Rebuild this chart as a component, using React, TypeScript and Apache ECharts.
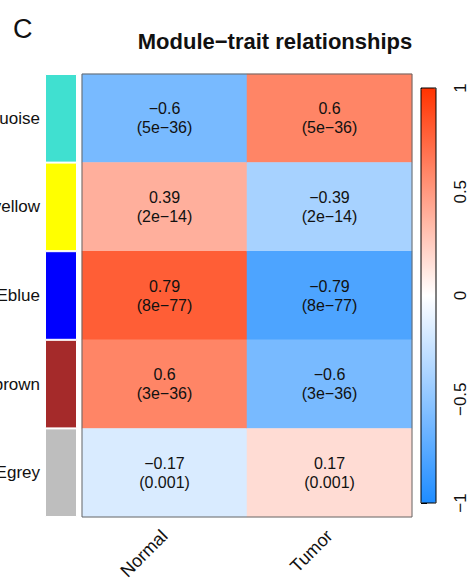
import React, { useEffect, useRef } from "react";
import * as echarts from "echarts";

const traits = ["Normal", "Tumor"];
const modules = ["MEturquoise", "MEyellow", "MEblue", "MEbrown", "MEgrey"];
const moduleColors = ["#40E0D0", "#FFFF00", "#0000FF", "#A52A2A", "#BEBEBE"];
const corNormal = [-0.6, 0.39, 0.79, 0.6, -0.17];
const corTumor = [0.6, -0.39, -0.79, -0.6, 0.17];
const pNormal = ["5e-36", "2e-14", "8e-77", "3e-36", "0.001"];
const pTumor = ["5e-36", "2e-14", "8e-77", "3e-36", "0.001"];

const FONT = "'Liberation Sans', Arial, Helvetica, sans-serif";
const minus = (s: string) => s.replace(/-/g, "\u2212");

export default function App() {
  const ref = useRef<HTMLDivElement>(null);
  useEffect(() => {
    if (!ref.current) return;
    const chart = echarts.init(ref.current, undefined, { renderer: "svg" });
    const cor = [corNormal, corTumor];
    const pv = [pNormal, pTumor];
    const heatData: any[] = [];
    for (let x = 0; x < traits.length; x++) {
      for (let y = 0; y < modules.length; y++) {
        heatData.push([x, y, cor[x][y]]);
      }
    }
    const stripData = modules.map((m, i) => ({
      value: 1,
      itemStyle: { color: moduleColors[i] },
    }));
    chart.setOption({
      animation: false,
      textStyle: { fontFamily: FONT },
      grid: [
        { left: 82, top: 74, width: 330, height: 443, show: true, borderColor: "#666", borderWidth: 1, backgroundColor: "transparent", z: 5, outerBoundsMode: "none", containLabel: false },
        { left: 45, top: 74, width: 32, height: 443, outerBoundsMode: "none", containLabel: false },
        { left: 421, top: 88, width: 15, height: 415, outerBoundsMode: "none", containLabel: false },
      ],
      xAxis: [
        {
          type: "category",
          gridIndex: 0,
          data: traits,
          axisLine: { show: false },
          axisTick: { show: false },
          splitLine: { show: false },
          axisLabel: { rotate: 45, fontSize: 18, margin: 16, color: "#111", fontFamily: FONT },
        },
        { type: "value", gridIndex: 1, min: 0, max: 1, show: false },
        { type: "value", gridIndex: 2, min: 0, max: 1, show: false },
      ],
      yAxis: [
        { type: "category", gridIndex: 0, data: modules, inverse: true, show: false },
        {
          type: "category",
          gridIndex: 1,
          data: modules,
          inverse: true,
          position: "left",
          axisLine: { show: false },
          axisTick: { show: false },
          splitLine: { show: false },
          axisLabel: { fontSize: 17, margin: 5, color: "#111", fontFamily: FONT },
        },
        {
          type: "value",
          gridIndex: 2,
          min: -1,
          max: 1,
          interval: 0.5,
          position: "right",
          axisLine: { show: false },
          splitLine: { show: false },
          axisTick: { show: true, length: 6, lineStyle: { color: "#000", width: 1 } },
          axisLabel: {
            rotate: 90,
            fontSize: 17,
            margin: 16,
            color: "#111",
            fontFamily: FONT,
            formatter: (v: number) => minus(String(v)),
          },
        },
      ],
      visualMap: {
        type: "continuous",
        min: -1,
        max: 1,
        seriesIndex: 0,
        calculable: false,
        hoverLink: false,
        left: 421,
        top: 88,
        itemWidth: 15,
        itemHeight: 415,
        padding: 0,
        orient: "vertical",
        inRange: { color: ["#1E8CFF", "#FFFFFF", "#FF3300"] },
      },
      graphic: [
        {
          type: "text",
          left: 13,
          top: 15,
          style: { text: "C", fontSize: 27, fontFamily: FONT, fill: "#111" },
        },
        {
          type: "text",
          x: 275,
          y: 41,
          style: {
            text: "Module\u2212trait relationships",
            fontSize: 22,
            fontWeight: "bold",
            fontFamily: FONT,
            fill: "#111",
            textAlign: "center",
            textVerticalAlign: "middle",
          },
        },
        {
          type: "rect",
          shape: { x: 421, y: 88, width: 15, height: 415 },
          style: { fill: "none", stroke: "#000", lineWidth: 1 },
          z: 100,
        },
      ],
      series: [
        {
          type: "heatmap",
          xAxisIndex: 0,
          yAxisIndex: 0,
          data: heatData,
          emphasis: { disabled: true },
          label: {
            show: true,
            fontSize: 16,
            lineHeight: 19,
            color: "#111",
            fontFamily: FONT,
            formatter: (p: any) => {
              const [x, y, v] = p.data;
              return minus(String(v)) + "\n(" + minus(pv[x][y]) + ")";
            },
          },
        },
        {
          type: "bar",
          xAxisIndex: 1,
          yAxisIndex: 1,
          data: stripData,
          barWidth: "100%",
          itemStyle: { borderColor: "#fff", borderWidth: 1 },
          emphasis: { disabled: true },
        },
      ],
    });
    return () => chart.dispose();
  }, []);
  return (
    <div
      ref={ref}
      style={{ position: "absolute", left: 0, top: 0, width: 469, height: 579, background: "#fff" }}
    />
  );
}
